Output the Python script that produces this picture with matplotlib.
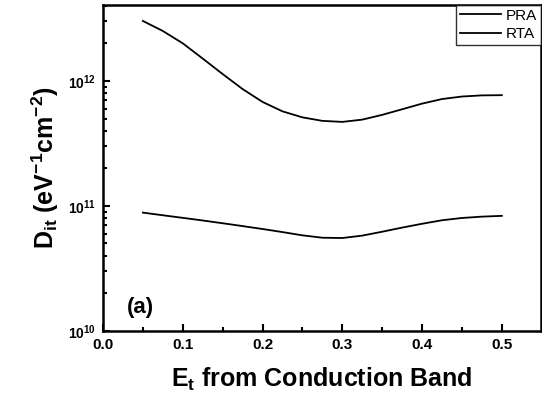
import matplotlib
matplotlib.use("Agg")
import matplotlib.pyplot as plt
from matplotlib.ticker import LogLocator, NullFormatter, MultipleLocator

plt.rcParams['font.family'] = ['Liberation Sans', 'DejaVu Sans']
plt.rcParams['font.weight'] = 'bold'
plt.rcParams['mathtext.fontset'] = 'custom'
plt.rcParams['mathtext.default'] = 'bf'
plt.rcParams['mathtext.bf'] = 'Liberation Sans:bold'
plt.rcParams['mathtext.rm'] = 'Liberation Sans:bold'
plt.rcParams['mathtext.it'] = 'Liberation Sans:bold'

# Data
energy = [0.05, 0.075, 0.10, 0.125, 0.15, 0.175, 0.20, 0.225, 0.25, 0.275,
          0.30, 0.325, 0.35, 0.375, 0.40, 0.425, 0.45, 0.475, 0.50]
dit_pra = [3.02e12, 2.51e12, 2.00e12, 1.51e12, 1.135e12, 8.61e11, 6.79e11, 5.71e11,
           5.11e11, 4.79e11, 4.70e11, 4.90e11, 5.35e11, 5.93e11, 6.58e11, 7.16e11,
           7.50e11, 7.66e11, 7.69e11]
dit_rta = [8.83e10, 8.41e10, 8.02e10, 7.64e10, 7.26e10, 6.89e10, 6.53e10, 6.17e10,
           5.81e10, 5.56e10, 5.53e10, 5.78e10, 6.21e10, 6.70e10, 7.19e10, 7.67e10,
           8.00e10, 8.20e10, 8.32e10]
series_labels = ['PRA', 'RTA']
xticks = [0.0, 0.1, 0.2, 0.3, 0.4, 0.5]
xtick_labels = ['0.0', '0.1', '0.2', '0.3', '0.4', '0.5']
yticks = [1e10, 1e11, 1e12]
ytick_labels = [r'$10^{10}$', r'$10^{11}$', r'$10^{12}$']

fig = plt.figure(figsize=(5.42, 4.01), dpi=100)
ax = fig.add_axes([0.19, 0.175, 0.808, 0.8125])

ax.plot(energy, dit_pra, color='black', lw=1.3, label=series_labels[0])
ax.plot(energy, dit_rta, color='black', lw=1.3, label=series_labels[1])

ax.set_yscale('log')
ax.set_xlim(0.0, 0.549)
ax.set_ylim(1e10, 4.05e12)

ax.set_xticks(xticks)
ax.set_xticklabels(xtick_labels, fontsize=11, fontweight='bold')
ax.xaxis.set_minor_locator(MultipleLocator(0.05))
ax.set_yticks(yticks)
ax.set_yticklabels(ytick_labels, fontsize=10)
ax.yaxis.set_minor_locator(LogLocator(base=10, subs=range(2, 10)))
ax.yaxis.set_minor_formatter(NullFormatter())

ax.tick_params(which='both', direction='in', top=False, right=False, width=1.5)
ax.tick_params(which='major', length=5, pad=5)
ax.tick_params(which='minor', length=3)
for s in ax.spines.values():
    s.set_linewidth(1.8)

ax.set_xlabel(r'E$_t$ from Conduction Band', fontsize=18, fontweight='bold', labelpad=10)
ax.set_ylabel(r'D$_{it}$ (eV$^{-1}$cm$^{-2}$)', fontsize=18, fontweight='bold', labelpad=5)

ax.text(0.03, 1.39e10, '(a)', fontsize=16, fontweight='bold')

leg = ax.legend(loc='upper right', frameon=True, fancybox=False, edgecolor='black',
                fontsize=11, borderpad=0.25, labelspacing=0.3, handlelength=2.7,
                handletextpad=0.3, borderaxespad=0.0)
leg.get_frame().set_linewidth(1.0)
for t in leg.get_texts():
    t.set_fontweight('normal')

fig.savefig('out.png', dpi=100)
